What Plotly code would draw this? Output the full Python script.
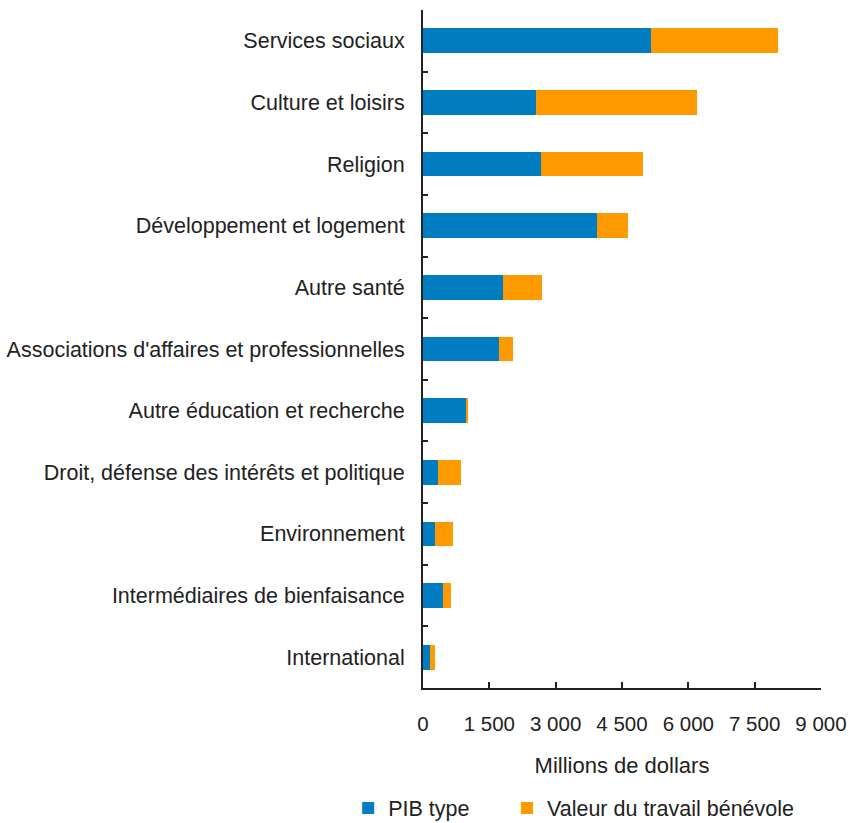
import plotly.graph_objects as go

categories = [
    "Services sociaux",
    "Culture et loisirs",
    "Religion",
    "Développement et logement",
    "Autre santé",
    "Associations d'affaires et professionnelles",
    "Autre éducation et recherche",
    "Droit, défense des intérêts et politique",
    "Environnement",
    "Intermédiaires de bienfaisance",
    "International",
]
pib_type = [5150, 2550, 2670, 3940, 1810, 1720, 980, 330, 280, 450, 150]
benevole = [2870, 3650, 2300, 690, 870, 310, 40, 520, 390, 180, 130]

tick_vals = [0, 1500, 3000, 4500, 6000, 7500, 9000]
tick_text = ["0", "1 500", "3 000", "4 500", "6 000", "7 500", "9 000"]

FONT = "Liberation Sans, Arial, sans-serif"
fig = go.Figure()
fig.add_trace(go.Bar(y=categories, x=pib_type, orientation="h", name="PIB type",
                     marker=dict(color="#007dc0", line=dict(width=0)), legend="legend"))
fig.add_trace(go.Bar(y=categories, x=benevole, orientation="h", name="Valeur du travail bénévole",
                     marker=dict(color="#ff9900", line=dict(width=0)), legend="legend2"))

legend_common = dict(orientation="h", xanchor="left", y=-0.177, yanchor="middle",
                     font=dict(size=21.5), itemwidth=30, bgcolor="rgba(0,0,0,0)")

fig.update_layout(
    width=849, height=823,
    barmode="stack", bargap=0.6,
    plot_bgcolor="white", paper_bgcolor="white",
    margin=dict(l=423, r=28, t=10, b=135, autoexpand=False),
    font=dict(family=FONT, size=21, color="#222222"),
    showlegend=True,
    legend=dict(x=-0.188, **legend_common),
    legend2=dict(x=0.211, **legend_common),
)
fig.update_xaxes(
    range=[0, 9000], tickvals=tick_vals, ticktext=tick_text,
    ticks="inside", ticklen=6, tickwidth=2, tickcolor="#222222",
    showline=True, linecolor="#222222", linewidth=2,
    showgrid=False, zeroline=False, automargin=False,
    ticklabelstandoff=16, tickfont=dict(size=20.5),
    title=dict(text="Millions de dollars", standoff=24, font=dict(size=22)),
)
fig.update_yaxes(
    autorange="reversed", automargin=False,
    ticks="inside", tickson="boundaries", ticklen=5, tickwidth=2, tickcolor="#222222",
    showline=True, linecolor="#222222", linewidth=2,
    showgrid=False, zeroline=False,
    ticklabelstandoff=12, tickfont=dict(size=21.5),
)
fig.write_html("out.html", config={"displayModeBar": False},
               post_script="document.body.style.margin='0';document.body.style.overflow='hidden';")
